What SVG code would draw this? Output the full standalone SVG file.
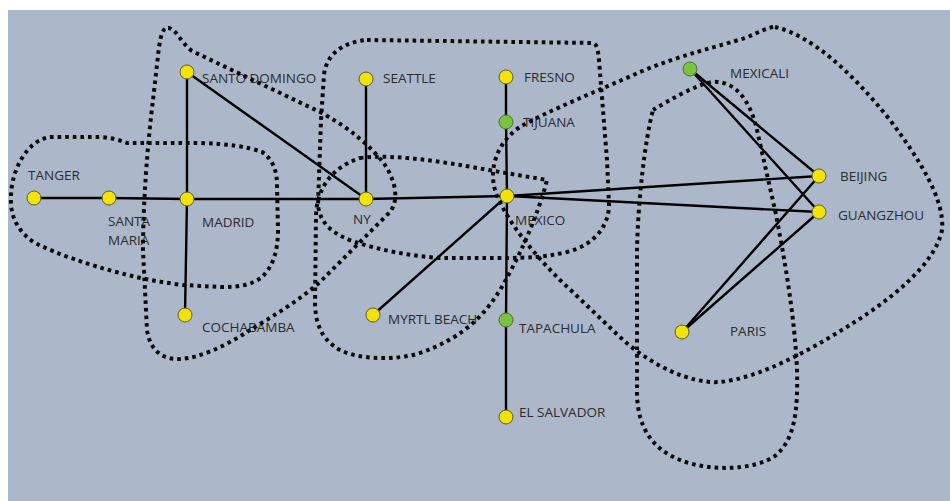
<svg xmlns="http://www.w3.org/2000/svg" width="950" height="501" viewBox="0 0 950 501">
<style>
.bg{fill:#acb8ca}
.reg{fill:none;stroke:#0a0a0a;stroke-width:4;stroke-dasharray:3.6 4}
.edge{stroke:#000;stroke-width:2.4;fill:none}
.y{fill:#f2e205;stroke:#5a5a30;stroke-width:1}
.g{fill:#7cc242;stroke:#4a7028;stroke-width:1}
text{font-family:"Open Sans","Liberation Sans",sans-serif;font-size:13.5px;fill:#2b2b2b}
</style>
<rect x="0" y="0" width="950" height="501" fill="#ffffff"/>
<rect class="bg" x="8" y="10" width="942" height="491"/>
<g id="connectors">
<path class="edge" d="M34,198 L109,198 L187,199 L366,199 L507,196"/>
<path class="edge" d="M187,72 L187,199 L185,315"/>
<path class="edge" d="M187,72 L366,199"/>
<path class="edge" d="M366,79 L366,199"/>
<path class="edge" d="M506,77 L506,122 L507,196 L506,320 L506,417"/>
<path class="edge" d="M507,196 L373,315"/>
<path class="edge" d="M507,196 L819,176"/>
<path class="edge" d="M507,196 L819,212"/>
<path class="edge" d="M690,69 L819,176"/>
<path class="edge" d="M690,69 L819,212"/>
<path class="edge" d="M682,332 L819,176"/>
<path class="edge" d="M682,332 L819,212"/>
</g>
<g id="tanger"><circle class="y" cx="34" cy="198" r="7"/><text x="28" y="180">TANGER</text></g>
<g id="santa-maria"><circle class="y" cx="109" cy="198" r="7"/><text x="108" y="226">SANTA</text><text x="108" y="245">MARIA</text></g>
<g id="madrid"><circle class="y" cx="187" cy="199" r="7"/><text x="202" y="227">MADRID</text></g>
<g id="santo-domingo"><circle class="y" cx="187" cy="72" r="7"/><text x="202" y="83">SANTO DOMINGO</text></g>
<g id="cochabamba"><circle class="y" cx="185" cy="315" r="7"/><text x="202" y="332">COCHABAMBA</text></g>
<g id="seattle"><circle class="y" cx="366" cy="79" r="7"/><text x="383" y="83">SEATTLE</text></g>
<g id="ny"><circle class="y" cx="366" cy="199" r="7"/><text x="353" y="224">NY</text></g>
<g id="fresno"><circle class="y" cx="506" cy="77" r="7"/><text x="524" y="82">FRESNO</text></g>
<g id="tijuana"><circle class="g" cx="506" cy="122" r="7"/><text x="523" y="127">TIJUANA</text></g>
<g id="mexico"><circle class="y" cx="507" cy="196" r="7"/><text x="515" y="225">MEXICO</text></g>
<g id="myrtl-beach"><circle class="y" cx="373" cy="315" r="7"/><text x="388" y="324">MYRTL BEACH</text></g>
<g id="tapachula"><circle class="g" cx="506" cy="320" r="7"/><text x="519" y="333">TAPACHULA</text></g>
<g id="el-salvador"><circle class="y" cx="506" cy="417" r="7"/><text x="519" y="417">EL SALVADOR</text></g>
<g id="mexicali"><circle class="g" cx="690" cy="69" r="7"/><text x="730" y="78">MEXICALI</text></g>
<g id="beijing"><circle class="y" cx="819" cy="176" r="7"/><text x="840" y="181">BEIJING</text></g>
<g id="guangzhou"><circle class="y" cx="819" cy="212" r="7"/><text x="838" y="220">GUANGZHOU</text></g>
<g id="paris"><circle class="y" cx="682" cy="332" r="7"/><text x="730" y="336">PARIS</text></g>
<g id="regions">
<path class="reg" d="M50,137 L100,137 Q115,138 127,143 L200,143 Q240,144 262,152 Q277,162 277,185 L278,230 Q278,262 262,277 Q248,288 220,287 L183,285 Q150,281 120,273 Q70,260 35,243 Q12,228 11,203 Q10,178 22,158 Q33,140 50,137 Z"/>
<path class="reg" d="M168,28 C176,28 180,42 192,51 L320,112 C348,127 370,145 385,165 C396,182 399,200 390,212 L320,282 C300,300 270,318 247,332 C225,346 200,358 180,359 C162,360 150,350 147,330 L143,250 C143,200 148,140 153,100 L159,47 C161,36 162,28 168,28 Z"/>
<path class="reg" d="M367,40 L593,43 C598,45 598,52 599,60 L607,160 L609,205 C609,225 595,245 567,252 C545,257 530,258 500,258 L440,258 C410,256 380,250 355,242 C335,235 320,225 318,205 L321,120 L324,75 C326,55 342,42 367,40 Z"/>
<path class="reg" d="M360,158 C400,153 460,165 500,172 L547,180 C542,200 530,235 510,272 C490,312 465,338 417,354 C395,360 360,360 340,350 C322,340 316,325 315,305 L316,215 C317,190 330,168 360,158 Z"/>
<path class="reg" d="M775,27 C810,35 850,70 890,120 C920,160 945,200 942,230 C935,265 890,300 850,325 C810,350 760,378 720,382 C690,384 650,365 620,337 L560,280 C535,255 505,220 495,190 C488,165 500,140 520,127 C545,112 600,90 640,72 C680,55 720,46 745,38 C760,32 768,27 775,27 Z"/>
<path class="reg" d="M653,110 C670,100 695,85 712,82 C735,80 750,100 757,130 L775,210 C785,260 795,320 797,370 C798,410 795,440 775,456 C755,470 710,472 680,460 C650,448 638,425 637,395 L637,250 C638,200 645,140 653,110 Z"/>
</g>
</svg>
